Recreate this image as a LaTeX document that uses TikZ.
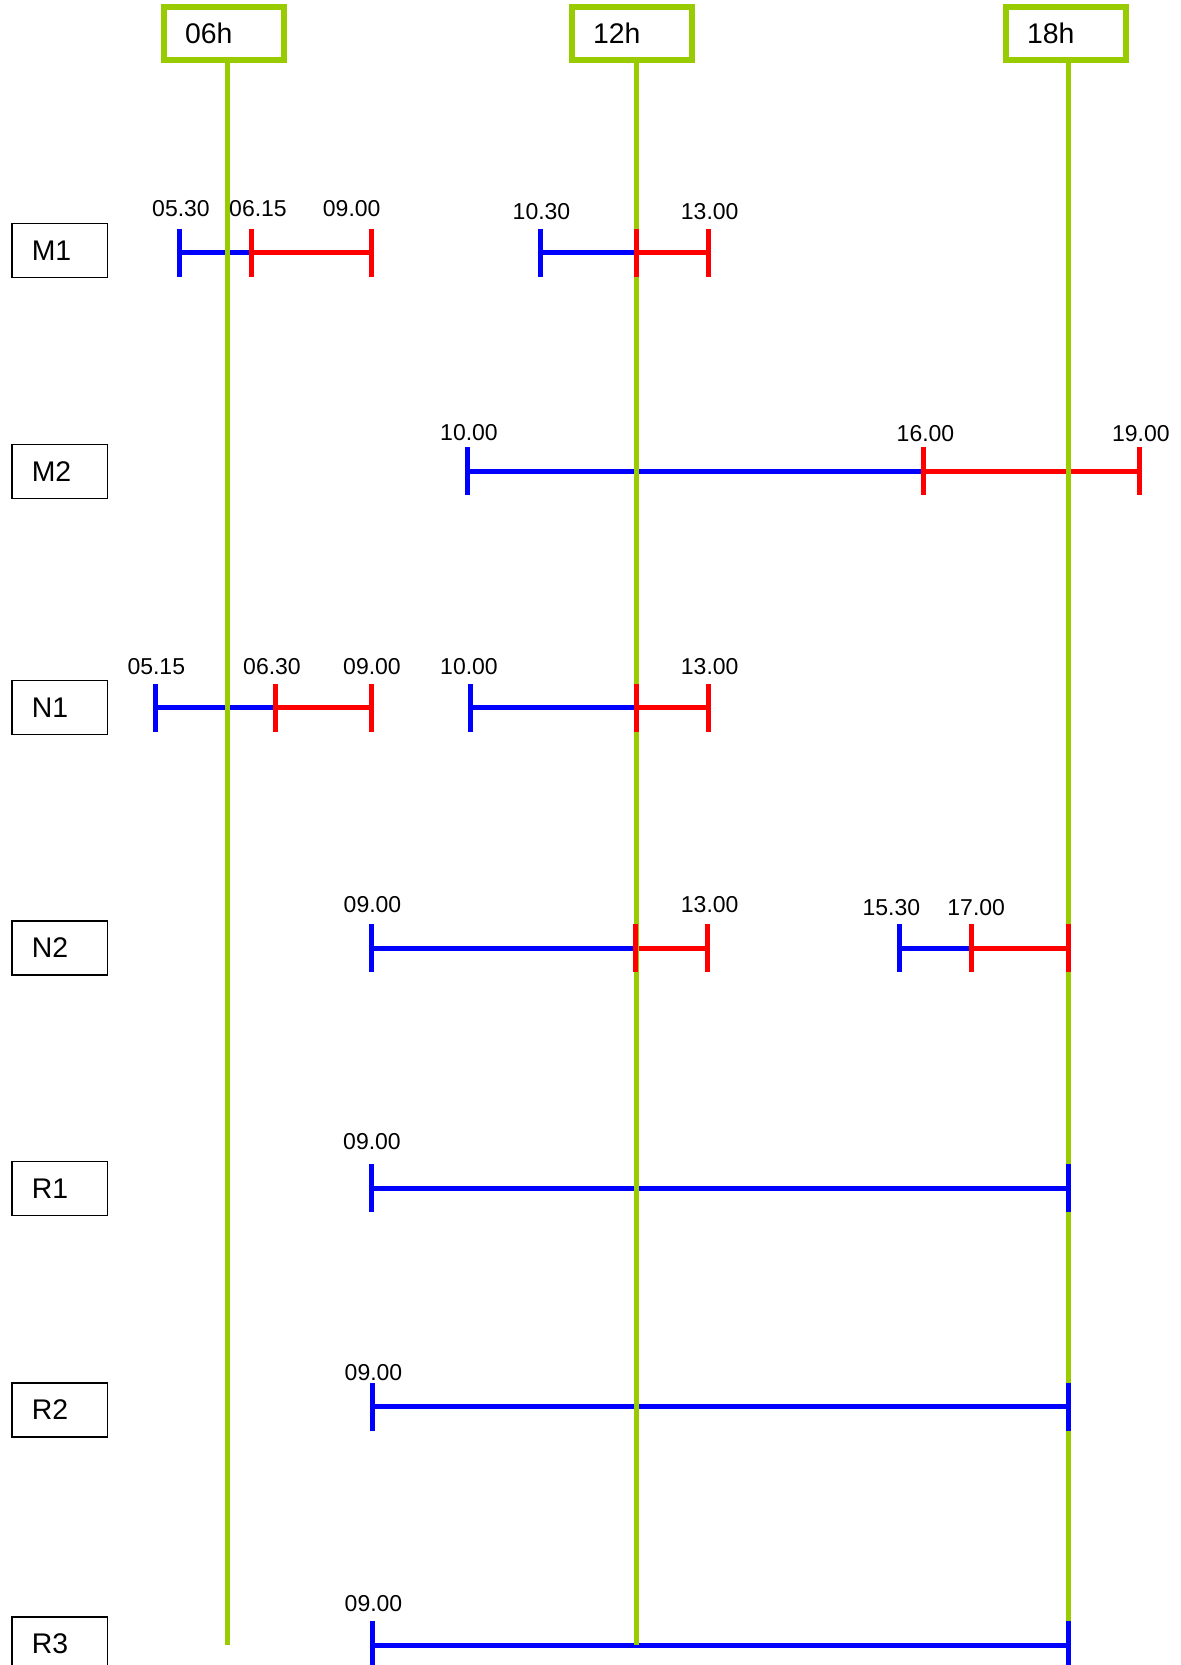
\documentclass[tikz,border=0pt]{standalone}
\usepackage{fontspec}
\setmainfont{Liberation Sans}
\definecolor{hgreen}{RGB}{153,204,0}
\pgfdeclarelayer{bars}
\pgfdeclarelayer{grid}
\pgfsetlayers{bars,grid,main}
\begin{document}
\begin{tikzpicture}[x=0.5pt, y=-0.5pt]
			\tikzset{hd/.style={draw=hgreen, line width=3pt, minimum width=60pt, minimum height=26.5pt, text width=39pt, inner xsep=10.5pt, inner ysep=0pt, align=left, font=\fontsize{14.2}{16}\selectfont},
			rw/.style={draw=black, line width=0.75pt, minimum width=47.75pt, minimum height=27pt, text width=27.75pt, inner xsep=10pt, inner ysep=0pt, align=left, font=\fontsize{14.2}{16}\selectfont},
			tm/.style={inner sep=0pt, font=\fontsize{11.5}{13}\selectfont},
			bt/.style={fill=blue, minimum width=2.5pt, minimum height=24pt, inner sep=0pt},
			rt/.style={bt, fill=red},
			gl/.style={draw=hgreen, line width=2.5pt},
			bb/.style={draw=blue, line width=2.5pt},
			rb/.style={draw=red, line width=2.5pt}};

			\useasboundingbox (0,0) rectangle (1181,1665);

			\node[hd] (h06) at (224,33.5) {06h};
			\node[hd] (h12) at (632,33.5) {12h};
			\node[hd] (h18) at (1066,33.5) {18h};
			\coordinate (e06) at (227,1645);
			\coordinate (e12) at (636,1645);
			\coordinate (e18) at (1068,1645);

			\node[rw] (m1) at (59.5,250.5) {M1};
			\node[rw] (m2) at (59.5,471.3) {M2};
			\node[rw] (n1) at (59.5,707.5) {N1};
			\node[rw] (n2) at (59.5,948) {N2};
			\node[rw] (r1) at (59.5,1188.4) {R1};
			\node[rw] (r2) at (59.5,1409.8) {R2};
			\node[rw] (r3) at (59.5,1644) {R3};

			\node[bt] (m1a) at (179,252.5) {};
			\node[rt] (m1b) at (251.7,252.5) {};
			\node[rt] (m1c) at (371.7,252.5) {};
			\node[bt] (m1d) at (540.5,252.5) {};
			\node[rt] (m1e) at (636,252.5) {};
			\node[rt] (m1f) at (708.6,252.5) {};
			\node[tm] (t1a) at (181,209) {05.30};
			\node[tm] (t1b) at (258,209) {06.15};
			\node[tm] (t1c) at (351.7,209) {09.00};
			\node[tm] (t1d) at (541.5,212) {10.30};
			\node[tm] (t1e) at (709.7,212) {13.00};

			\node[bt] (m2a) at (467.7,471) {};
			\node[rt] (m2b) at (923.5,471) {};
			\node[rt] (m2c) at (1139.5,471) {};
			\node[tm] (t2a) at (469,433) {10.00};
			\node[tm] (t2b) at (925.5,434) {16.00};
			\node[tm] (t2c) at (1140.8,434) {19.00};

			\node[bt] (n1a) at (155.7,707.5) {};
			\node[rt] (n1b) at (275,707.5) {};
			\node[rt] (n1c) at (371.7,707.5) {};
			\node[bt] (n1d) at (470.3,707.5) {};
			\node[rt] (n1e) at (636,707.5) {};
			\node[rt] (n1f) at (708.6,707.5) {};
			\node[tm] (t3a) at (156.3,666.7) {05.15};
			\node[tm] (t3b) at (272,666.7) {06.30};
			\node[tm] (t3c) at (372,666.7) {09.00};
			\node[tm] (t3d) at (469,666.7) {10.00};
			\node[tm] (t3e) at (709.7,666.7) {13.00};

			\node[bt] (n2a) at (371.7,948.3) {};
			\node[rt] (n2b) at (635.5,948.3) {};
			\node[rt] (n2c) at (707.7,948.3) {};
			\node[bt] (n2d) at (899.3,948.3) {};
			\node[rt] (n2e) at (971.7,948.3) {};
			\node[rt] (n2f) at (1068,948.3) {};
			\node[tm] (t4a) at (372.5,905) {09.00};
			\node[tm] (t4b) at (709.7,905) {13.00};
			\node[tm] (t4c) at (891.3,908) {15.30};
			\node[tm] (t4d) at (976.2,908) {17.00};

			\node[bt] (r1a) at (371.5,1188.3) {};
			\node[bt] (r1b) at (1068,1188.3) {};
			\node[tm] (t5a) at (372,1142) {09.00};
			\node[bt] (r2a) at (372,1406.6) {};
			\node[bt] (r2b) at (1068,1406.6) {};
			\node[tm] (t6a) at (373.5,1372.6) {09.00};
			\node[bt] (r3a) at (372,1645) {};
			\node[bt] (r3b) at (1068,1645) {};
			\node[tm] (t7a) at (373.5,1603.5) {09.00};

			\begin{pgfonlayer}{grid}
			\draw[gl] (h06.south -| e06) -- (e06);
			\draw[gl] (h12.south -| e12) -- (e12);
			\draw[gl] (h18.south -| e18) -- (e18);
			\end{pgfonlayer}

			\begin{pgfonlayer}{bars}
			\draw[bb] (m1a.center) -- (m1b.center);
			\draw[rb] (m1b.center) -- (m1c.center);
			\draw[bb] (m1d.center) -- (m1e.center);
			\draw[rb] (m1e.center) -- (m1f.center);
			\draw[bb] (m2a.center) -- (m2b.center);
			\draw[rb] (m2b.center) -- (m2c.center);
			\draw[bb] (n1a.center) -- (n1b.center);
			\draw[rb] (n1b.center) -- (n1c.center);
			\draw[bb] (n1d.center) -- (n1e.center);
			\draw[rb] (n1e.center) -- (n1f.center);
			\draw[bb] (n2a.center) -- (n2b.center);
			\draw[rb] (n2b.center) -- (n2c.center);
			\draw[bb] (n2d.center) -- (n2e.center);
			\draw[rb] (n2e.center) -- (n2f.center);
			\draw[bb] (r1a.center) -- (r1b.center);
			\draw[bb] (r2a.center) -- (r2b.center);
			\draw[bb] (r3a.center) -- (r3b.center);
			\end{pgfonlayer}
		\end{tikzpicture}
\end{document}
